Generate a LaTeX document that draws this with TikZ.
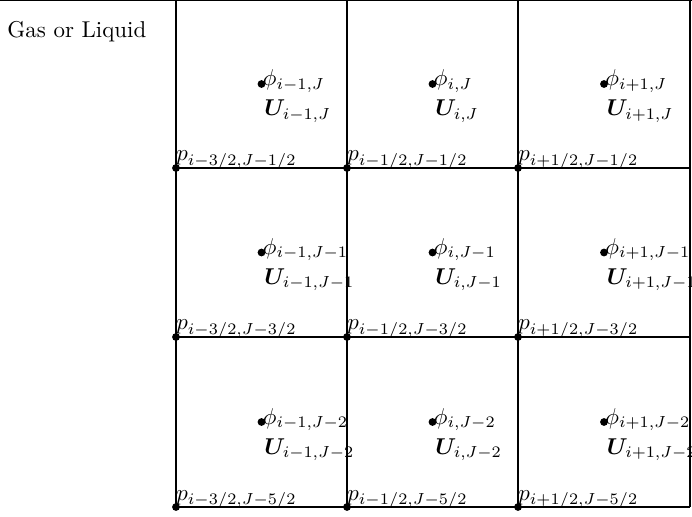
\documentclass[tikz,border=0pt]{standalone}
\usepackage{bm}
\begin{document}
\begin{tikzpicture}[x=0.4365pt,y=-0.4365pt,
  gridline/.style={line width=0.85pt},
  dot/.style={circle,fill,inner sep=0pt,minimum size=3.4pt},
  lab/.style={inner sep=0pt,anchor=base west}]
\useasboundingbox (0,0) rectangle (692,517);
\clip (0,0) rectangle (692,517);
% grid coordinates
\foreach \c/\x in {0/176,1/347,2/518,3/690}
  \foreach \r/\y in {0/0,1/168,2/337,3/507}
    \coordinate (g\c\r) at (\x,\y);
\coordinate (tl) at (0,0.8);
\coordinate (tr) at (692,0.8);
\draw[line width=0.5pt] (tl) -- (tr);
\foreach \c in {0,1,2,3} \draw[gridline] (g\c0) -- (g\c3);
\foreach \r in {1,2,3} \draw[gridline] (g0\r) -- (g3\r);
% grid dots
\foreach \c in {0,1,2}
  \foreach \r in {1,2,3}
    \node[dot] (d\c\r) at (g\c\r) {};
% cell centres and labels
\foreach \c/\x/\ci in {0/261.5/i-1, 1/432.5/i, 2/604/i+1}
  \foreach \r/\y/\rj in {0/84/J, 1/252.5/J-1, 2/422/J-2}
  {
    \node[dot] (c\c\r) at (\x,\y) {};
    \node[lab] (f\c\r) at (\x+1,\y+2) {$\phi_{\ci,\rj}$};
    \node[lab] (u\c\r) at (\x+2.5,\y+32) {$\bm{U}_{\ci,\rj}$};
  }
% pressure labels
\node[lab] (p01) at ([shift={(0,-7)}]g01) {$p_{i-3/2,J-1/2}$};
\node[lab] (p11) at ([shift={(0,-7)}]g11) {$p_{i-1/2,J-1/2}$};
\node[lab] (p21) at ([shift={(0,-7)}]g21) {$p_{i+1/2,J-1/2}$};
\node[lab] (p02) at ([shift={(0,-7)}]g02) {$p_{i-3/2,J-3/2}$};
\node[lab] (p12) at ([shift={(0,-7)}]g12) {$p_{i-1/2,J-3/2}$};
\node[lab] (p22) at ([shift={(0,-7)}]g22) {$p_{i+1/2,J-3/2}$};
\node[lab] (p03) at ([shift={(0,-7)}]g03) {$p_{i-3/2,J-5/2}$};
\node[lab] (p13) at ([shift={(0,-7)}]g13) {$p_{i-1/2,J-5/2}$};
\node[lab] (p23) at ([shift={(0,-7)}]g23) {$p_{i+1/2,J-5/2}$};
% medium label
\node[lab] (medium) at (7,38) {Gas or Liquid};
\end{tikzpicture}
\end{document}
